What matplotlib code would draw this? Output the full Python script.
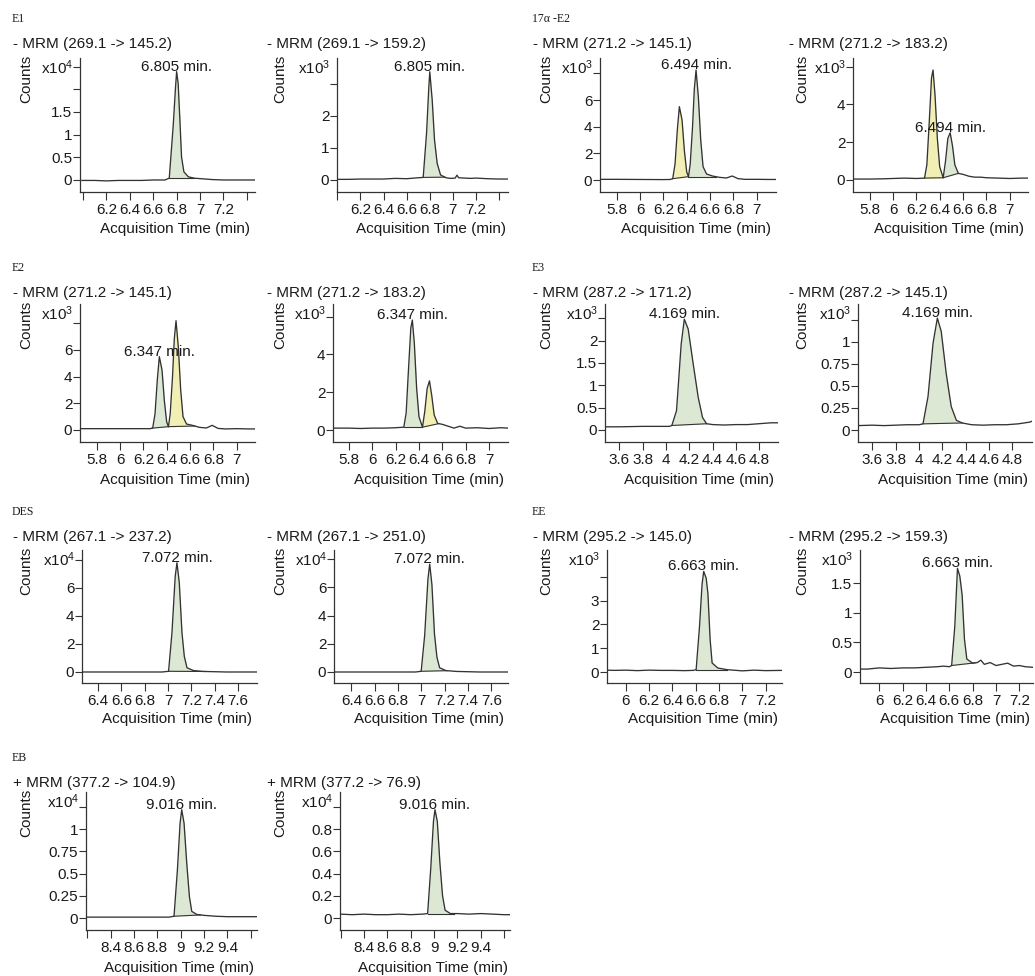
import numpy as np
import matplotlib
matplotlib.use('Agg')
import matplotlib.pyplot as plt

plt.rcParams['font.family'] = ['Liberation Sans', 'DejaVu Sans']
plt.rcParams['mathtext.fontset'] = 'custom'
plt.rcParams['mathtext.rm'] = 'Liberation Sans'
plt.rcParams['mathtext.it'] = 'Liberation Sans:italic'
plt.rcParams['mathtext.bf'] = 'Liberation Sans:bold'

# ---------------------------------------------------------------- data
compounds = ['E1', '17α -E2', 'E2', 'E3', 'DES', 'EE', 'EB']

titles = ['- MRM (269.1 -> 145.2)', '- MRM (269.1 -> 159.2)',
          '- MRM (271.2 -> 145.1)', '- MRM (271.2 -> 183.2)',
          '- MRM (271.2 -> 145.1)', '- MRM (271.2 -> 183.2)',
          '- MRM (287.2 -> 171.2)', '- MRM (287.2 -> 145.1)',
          '- MRM (267.1 -> 237.2)', '- MRM (267.1 -> 251.0)',
          '- MRM (295.2 -> 145.0)', '- MRM (295.2 -> 159.3)',
          '+ MRM (377.2 -> 104.9)', '+ MRM (377.2 -> 76.9)']

peak_labels = ['6.805 min.', '6.805 min.', '6.494 min.', '6.494 min.',
               '6.347 min.', '6.347 min.', '4.169 min.', '4.169 min.',
               '7.072 min.', '7.072 min.', '6.663 min.', '6.663 min.',
               '9.016 min.', '9.016 min.']

exponents = [4, 3, 3, 3, 3, 3, 3, 3, 4, 4, 3, 3, 4, 4]

# retention time (min) and counts (in units of 10^exponent)
t_e1_a = [5.99, 6.1, 6.2, 6.3, 6.4, 6.5, 6.6, 6.7, 6.737, 6.77, 6.791, 6.80, 6.813,
          6.828, 6.842, 6.862, 6.9, 6.95, 7.0, 7.1, 7.2, 7.3, 7.47]
c_e1_a = [-0.01, -0.01, -0.02, -0.01, -0.01, -0.01, 0.0, 0.0, 0.04, 1.17, 2.06, 2.39,
          2.13, 1.32, 0.51, 0.18, 0.07, 0.04, 0.03, 0.01, 0.0, 0.0, 0.0]

t_e1_b = [6.0, 6.1, 6.2, 6.3, 6.4, 6.5, 6.6, 6.7, 6.743, 6.772, 6.792, 6.80, 6.821,
          6.841, 6.864, 6.893, 6.94, 6.98, 7.02, 7.035, 7.05, 7.1, 7.15, 7.2, 7.3,
          7.4, 7.477]
c_e1_b = [0.02, 0.02, 0.03, 0.03, 0.03, 0.05, 0.04, 0.07, 0.08, 1.46, 2.92, 3.38,
          2.5, 1.25, 0.52, 0.16, 0.07, 0.05, 0.06, 0.15, 0.07, 0.06, 0.05, 0.06,
          0.04, 0.03, 0.03]

t_a2_a = [5.657, 5.8, 6.0, 6.2, 6.26, 6.28, 6.30, 6.32, 6.337, 6.36, 6.38, 6.40,
          6.415, 6.43, 6.45, 6.465, 6.48, 6.50, 6.52, 6.54, 6.57, 6.62, 6.68,
          6.74, 6.79, 6.84, 6.9, 7.0, 7.1, 7.17]
c_a2_a = [0.05, 0.05, 0.04, 0.03, 0.04, 0.1, 1.2, 3.8, 5.5, 4.5, 2.2, 0.6, 0.25,
          1.2, 4.0, 6.8, 8.25, 6.2, 3.0, 1.0, 0.45, 0.3, 0.2, 0.15, 0.3, 0.1,
          0.05, 0.05, 0.04, 0.04]

t_a2_b = [5.657, 5.8, 5.9, 6.0, 6.1, 6.2, 6.27, 6.29, 6.31, 6.33, 6.343, 6.36,
          6.38, 6.40, 6.43, 6.45, 6.47, 6.49, 6.51, 6.53, 6.56, 6.6, 6.65, 6.7,
          6.75, 6.8, 6.9, 7.0, 7.1, 7.157]
c_a2_b = [0.05, 0.05, 0.06, 0.08, 0.1, 0.08, 0.1, 0.8, 3.0, 5.4, 5.82, 4.5, 2.2,
          0.7, 0.12, 1.0, 2.2, 2.5, 1.8, 0.8, 0.35, 0.3, 0.2, 0.15, 0.15, 0.12,
          0.1, 0.08, 0.1, 0.1]

t_e2_a = [5.657, 5.8, 6.0, 6.2, 6.26, 6.28, 6.30, 6.32, 6.337, 6.36, 6.38, 6.40,
          6.415, 6.43, 6.45, 6.465, 6.48, 6.50, 6.52, 6.54, 6.57, 6.62, 6.68,
          6.74, 6.79, 6.84, 6.9, 7.0, 7.1, 7.157]
c_e2_a = [0.1, 0.1, 0.1, 0.1, 0.1, 0.15, 1.2, 3.8, 5.5, 4.5, 2.2, 0.6, 0.25, 1.2,
          4.0, 6.8, 8.2, 6.2, 3.0, 1.0, 0.45, 0.35, 0.2, 0.15, 0.35, 0.12, 0.08,
          0.1, 0.08, 0.08]

t_e2_b = [5.663, 5.8, 5.9, 6.0, 6.1, 6.2, 6.27, 6.29, 6.31, 6.33, 6.343, 6.36,
          6.38, 6.40, 6.43, 6.45, 6.47, 6.49, 6.51, 6.53, 6.56, 6.6, 6.65, 6.7,
          6.75, 6.8, 6.9, 7.0, 7.1, 7.163]
c_e2_b = [0.1, 0.1, 0.08, 0.1, 0.1, 0.12, 0.15, 0.9, 3.2, 5.4, 5.82, 4.6, 2.2,
          0.7, 0.15, 1.0, 2.2, 2.6, 1.8, 0.8, 0.35, 0.3, 0.2, 0.1, 0.2, 0.1, 0.12,
          0.08, 0.12, 0.1]

t_e3_a = [3.477, 3.6, 3.8, 3.95, 4.03, 4.05, 4.09, 4.13, 4.157, 4.19, 4.233,
          4.276, 4.313, 4.347, 4.4, 4.5, 4.6, 4.7, 4.8, 4.9, 4.96]
c_e3_a = [0.07, 0.07, 0.08, 0.08, 0.08, 0.1, 0.43, 1.92, 2.48, 2.26, 1.48, 0.73,
          0.28, 0.14, 0.12, 0.11, 0.12, 0.12, 0.14, 0.16, 0.16]

t_e3_b = [3.477, 3.6, 3.7, 3.8, 3.9, 4.0, 4.034, 4.077, 4.12, 4.157, 4.19, 4.233,
          4.276, 4.32, 4.37, 4.45, 4.55, 4.65, 4.75, 4.85, 4.95, 4.968]
c_e3_b = [0.05, 0.055, 0.05, 0.055, 0.06, 0.06, 0.07, 0.38, 0.985, 1.27, 1.12,
          0.64, 0.265, 0.11, 0.08, 0.06, 0.055, 0.06, 0.06, 0.07, 0.09, 0.1]

t_des_a = [6.263, 6.4, 6.6, 6.8, 6.95, 7.005, 7.034, 7.062, 7.077, 7.097, 7.12,
           7.14, 7.163, 7.22, 7.3, 7.4, 7.5, 7.6, 7.763]
c_des_a = [0.0, 0.0, 0.0, 0.0, 0.0, 0.05, 2.79, 6.83, 7.8, 6.36, 2.79, 1.11, 0.3,
           0.1, 0.04, 0.02, 0.0, 0.0, 0.0]

t_des_b = [6.251, 6.4, 6.6, 6.8, 6.95, 6.998, 7.028, 7.056, 7.071, 7.09, 7.112,
           7.133, 7.156, 7.21, 7.3, 7.4, 7.5, 7.6, 7.742]
c_des_b = [0.0, 0.0, 0.0, 0.0, 0.0, 0.05, 2.6, 6.6, 7.65, 6.2, 2.7, 1.05, 0.3,
           0.1, 0.04, 0.02, 0.0, 0.0, 0.0]

t_ee_a = [5.84, 5.9, 6.0, 6.1, 6.2, 6.3, 6.4, 6.5, 6.58, 6.604, 6.633, 6.655,
          6.669, 6.69, 6.705, 6.724, 6.741, 6.79, 6.87, 6.95, 7.0, 7.1, 7.2, 7.34]
c_ee_a = [0.08, 0.07, 0.08, 0.06, 0.08, 0.07, 0.07, 0.06, 0.07, 0.1, 1.92, 3.7,
          4.23, 3.95, 3.3, 1.36, 0.38, 0.17, 0.1, 0.07, 0.05, 0.08, 0.06, 0.07]

t_ee_b = [5.835, 5.9, 6.0, 6.1, 6.2, 6.3, 6.4, 6.5, 6.55, 6.6, 6.62, 6.647, 6.67,
          6.69, 6.71, 6.73, 6.75, 6.8, 6.84, 6.87, 6.9, 6.95, 7.0, 7.05, 7.1,
          7.15, 7.2, 7.25, 7.317]
c_ee_b = [0.05, 0.05, 0.07, 0.06, 0.07, 0.07, 0.08, 0.09, 0.1, 0.09, 0.11, 0.77,
          1.75, 1.62, 1.3, 0.55, 0.22, 0.15, 0.16, 0.2, 0.13, 0.16, 0.11, 0.13,
          0.15, 0.1, 0.11, 0.09, 0.08]

t_eb_a = [8.189, 8.3, 8.4, 8.5, 8.6, 8.7, 8.8, 8.9, 8.943, 8.972, 8.995, 9.009,
          9.029, 9.052, 9.075, 9.095, 9.138, 9.2, 9.3, 9.4, 9.5, 9.654]
c_eb_a = [0.01, 0.01, 0.01, 0.01, 0.01, 0.01, 0.01, 0.01, 0.02, 0.54, 1.07, 1.22,
          1.07, 0.62, 0.24, 0.075, 0.04, 0.03, 0.02, 0.015, 0.015, 0.015]

t_eb_b = [8.194, 8.3, 8.4, 8.5, 8.6, 8.7, 8.8, 8.9, 8.945, 8.972, 8.995, 9.008,
          9.028, 9.05, 9.073, 9.095, 9.14, 9.2, 9.3, 9.4, 9.5, 9.6, 9.651]
c_eb_b = [0.035, 0.03, 0.035, 0.03, 0.03, 0.035, 0.03, 0.035, 0.04, 0.45, 0.87,
          0.976, 0.87, 0.5, 0.2, 0.07, 0.04, 0.04, 0.035, 0.04, 0.035, 0.03, 0.03]

traces_t = [t_e1_a, t_e1_b, t_a2_a, t_a2_b, t_e2_a, t_e2_b, t_e3_a, t_e3_b,
            t_des_a, t_des_b, t_ee_a, t_ee_b, t_eb_a, t_eb_b]
traces_c = [c_e1_a, c_e1_b, c_a2_a, c_a2_b, c_e2_a, c_e2_b, c_e3_a, c_e3_b,
            c_des_a, c_des_b, c_ee_a, c_ee_b, c_eb_a, c_eb_b]

# integrated peak windows (start, end, kind) ; 'g' green / 'y' yellow
peaks = [
    [(6.737, 6.95, 'g')], [(6.743, 6.93, 'g')],
    [(6.28, 6.415, 'y'), (6.415, 6.65, 'g')], [(6.27, 6.43, 'y'), (6.43, 6.56, 'g')],
    [(6.275, 6.415, 'g'), (6.415, 6.64, 'y')], [(6.27, 6.43, 'g'), (6.43, 6.57, 'y')],
    [(4.05, 4.35, 'g')], [(4.034, 4.37, 'g')],
    [(7.005, 7.32, 'g')], [(6.998, 7.22, 'g')],
    [(6.604, 6.87, 'g')], [(6.62, 6.82, 'g')],
    [(8.943, 9.17, 'g')], [(8.945, 9.17, 'g')],
]
labelled_peak = [0, 0, 1, 1, 0, 0, 0, 0, 0, 0, 0, 0, 0, 0]

# tick values and labels
xt_e1 = [6.0, 6.2, 6.4, 6.6, 6.8, 7.0, 7.2, 7.4]
xl_e1 = ['', '6.2', '6.4', '6.6', '6.8', '7', '7.2', '']
xt_e2 = [5.8, 6.0, 6.2, 6.4, 6.6, 6.8, 7.0]
xl_e2 = ['5.8', '6', '6.2', '6.4', '6.6', '6.8', '7']
xt_e3 = [3.6, 3.8, 4.0, 4.2, 4.4, 4.6, 4.8]
xl_e3 = ['3.6', '3.8', '4', '4.2', '4.4', '4.6', '4.8']
xt_des = [6.4, 6.6, 6.8, 7.0, 7.2, 7.4, 7.6]
xl_des = ['6.4', '6.6', '6.8', '7', '7.2', '7.4', '7.6']
xt_ee = [6.0, 6.2, 6.4, 6.6, 6.8, 7.0, 7.2]
xl_ee = ['6', '6.2', '6.4', '6.6', '6.8', '7', '7.2']
xt_eb = [8.2, 8.4, 8.6, 8.8, 9.0, 9.2, 9.4, 9.6]
xl_eb = ['', '8.4', '8.6', '8.8', '9', '9.2', '9.4', '']

yt_list = [[0, 0.5, 1, 1.5, 2, 2.5], [0, 1, 2, 3], [0, 2, 4, 6, 8], [0, 2, 4, 6],
           [0, 2, 4, 6, 8], [0, 2, 4, 6], [0, 0.5, 1, 1.5, 2, 2.5],
           [0, 0.25, 0.5, 0.75, 1, 1.25], [0, 2, 4, 6, 8], [0, 2, 4, 6, 8],
           [0, 1, 2, 3, 4], [0, 0.5, 1, 1.5], [0, 0.25, 0.5, 0.75, 1, 1.25],
           [0, 0.2, 0.4, 0.6, 0.8, 1.0]]
yl_list = [['0', '0.5', '1', '1.5', '', ''], ['0', '1', '2', ''],
           ['0', '2', '4', '6', ''], ['0', '2', '4', ''],
           ['0', '2', '4', '6', ''], ['0', '2', '4', ''],
           ['0', '0.5', '1', '1.5', '2', ''], ['0', '0.25', '0.5', '0.75', '1', ''],
           ['0', '2', '4', '6', ''], ['0', '2', '4', '6', ''],
           ['0', '1', '2', '3', ''], ['0', '0.5', '1', '1.5'],
           ['0', '0.25', '0.5', '0.75', '1', ''], ['0', '0.2', '0.4', '0.6', '0.8', '']]
xt_list = [xt_e1, xt_e1, xt_e2, xt_e2, xt_e2, xt_e2, xt_e3, xt_e3,
           xt_des, xt_des, xt_ee, xt_ee, xt_eb, xt_eb]
xl_list = [xl_e1, xl_e1, xl_e2, xl_e2, xl_e2, xl_e2, xl_e3, xl_e3,
           xl_des, xl_des, xl_ee, xl_ee, xl_eb, xl_eb]

# ---------------------------------------------------------------- layout (pixels)
W, H = 1035, 976
rows = [dict(T=19, top=58, bot=192, xtl=229),
        dict(T=268, top=304, bot=442, xtl=480),
        dict(T=512, top=550, bot=683, xtl=719),
        dict(T=758, top=792, bot=930, xtl=968)]
# (row, left, right, title_x, xlim, ylim)
layout = [
    (0, 80, 255, 13, (5.974, 7.47), (-0.265, 2.69)),
    (0, 337, 508, 267, (5.997, 7.477), (-0.375, 3.81)),
    (0, 600, 776, 533, (5.657, 7.165), (-0.9, 9.15)),
    (0, 853, 1028, 789, (5.657, 7.157), (-0.635, 6.455)),
    (1, 80, 255, 13, (5.657, 7.157), (-0.9, 9.45)),
    (1, 333, 508, 267, (5.663, 7.163), (-0.635, 6.67)),
    (1, 605, 778, 533, (3.477, 4.96), (-0.27, 2.82)),
    (1, 858, 1032, 789, (3.477, 4.968), (-0.136, 1.43)),
    (2, 82, 257, 13, (6.263, 7.763), (-0.786, 8.71)),
    (2, 334, 508, 267, (6.251, 7.742), (-0.78, 8.65)),
    (2, 607, 782, 533, (5.84, 7.34), (-0.46, 5.13)),
    (2, 860, 1033, 789, (5.835, 7.317), (-0.185, 2.06)),
    (3, 86, 257, 13, (8.189, 9.654), (-0.135, 1.42)),
    (3, 340, 510, 267, (8.194, 9.651), (-0.108, 1.135)),
]
compound_pos = [(12, 19), (532, 19), (12, 268), (532, 268), (12, 512), (532, 512), (12, 758)]

LINE = '#333333'
TXT = '#1a1a1a'
FILL = {'g': '#dde8d4', 'y': '#f2efb4'}
FS = 11

fig = plt.figure(figsize=(W / 100, H / 100), dpi=100)


def fx(x):
    return x / W


def fy(y):
    return 1 - y / H


for (cx, cy), name in zip(compound_pos, compounds):
    fig.text(fx(cx), fy(cy), name, family=['Liberation Serif', 'DejaVu Serif'],
             fontsize=8.5, color=TXT, ha='left', va='center')

for i in range(14):
    r, left, right, tx, xlim, ylim = layout[i]
    R = rows[r]
    ax = fig.add_axes([fx(left), fy(R['bot']), (right - left) / W, (R['bot'] - R['top']) / H])
    t = np.array(traces_t[i], float)
    c = np.array(traces_c[i], float)
    for (t0, t1, kind) in peaks[i]:
        y0 = np.interp(t0, t, c)
        y1 = np.interp(t1, t, c)
        m = (t > t0) & (t < t1)
        tt = np.concatenate([[t0], t[m], [t1]])
        cc = np.concatenate([[y0], c[m], [y1]])
        base = np.interp(tt, [t0, t1], [y0, y1])
        ax.fill_between(tt, base, cc, color=FILL[kind], lw=0, zorder=1)
        ax.plot([t0, t1], [y0, y1], color=LINE, lw=0.8, zorder=2)
    ax.plot(t, c, color=LINE, lw=0.95, zorder=3)
    ax.set_xlim(*xlim)
    ax.set_ylim(*ylim)
    ax.set_xticks(xt_list[i])
    ax.set_xticklabels(xl_list[i])
    ax.set_yticks(yt_list[i])
    ax.set_yticklabels(yl_list[i])
    for s in ['top', 'right']:
        ax.spines[s].set_visible(False)
    for s in ['left', 'bottom']:
        ax.spines[s].set_color(LINE)
        ax.spines[s].set_linewidth(0.9)
    ax.tick_params(axis='x', direction='out', length=5.5, width=0.8, color=LINE,
                   pad=2.5, labelsize=FS, labelcolor=TXT)
    ax.tick_params(axis='y', direction='out', length=5, width=0.8, color=LINE,
                   pad=0.5, labelsize=FS, labelcolor=TXT)
    ax.patch.set_alpha(0)
    # peak label
    k = labelled_peak[i]
    t0, t1, _ = peaks[i][k]
    m = (t >= t0) & (t <= t1)
    j = np.argmax(np.where(m, c, -np.inf))
    ax.annotate(peak_labels[i], (t[j], c[j]), xytext=(0, -1.5), textcoords='offset points',
                ha='center', va='bottom', fontsize=FS, color=TXT, zorder=5)
    # texts around
    fig.text(fx(tx), fy(R['T'] + 25), titles[i], fontsize=FS, color=TXT,
             ha='left', va='center')
    fig.text(fx(tx + 13), fy(R['top'] - 3), 'Counts', rotation=90, fontsize=FS,
             color=TXT, ha='center', va='top')
    fig.text(fx(left - 7), fy(R['top'] + 10), 'x10$^{%d}$' % exponents[i],
             fontsize=FS, color=TXT, ha='right', va='center')
    fig.text(fx((left + right) / 2 + 8), fy(R['xtl']), 'Acquisition Time (min)',
             fontsize=FS, color=TXT, ha='center', va='center')

fig.savefig('out.png', dpi=100, facecolor='white')
